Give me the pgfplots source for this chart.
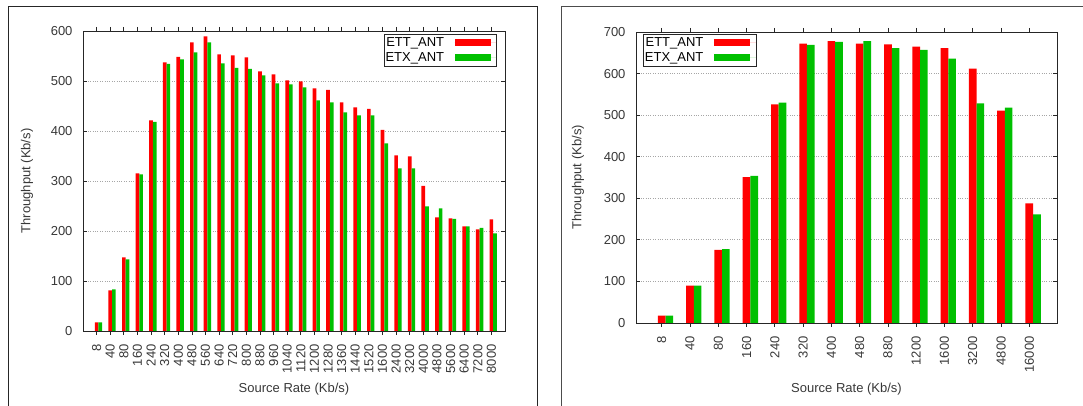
\documentclass[border=0pt]{standalone}
\usepackage{fontspec}
\setmainfont{Liberation Sans}
\usepackage{pgfplots}
\usepackage{pgfplotstable}
\pgfplotsset{compat=1.18}
\definecolor{gred}{HTML}{FF0000}
\definecolor{ggreen}{HTML}{00C000}

\pgfplotstableread{
idx rate ett etx
0 8 17 17
1 40 81 83
2 80 147 143
3 160 315 313
4 240 421 418
5 320 537 534
6 400 548 543
7 480 577 557
8 560 589 577
9 640 553 535
10 720 551 526
11 800 547 524
12 880 519 511
13 960 513 495
14 1040 501 493
15 1120 499 487
16 1200 485 461
17 1280 482 457
18 1360 457 437
19 1440 447 431
20 1520 444 431
21 1600 402 375
22 2400 351 325
23 3200 349 325
24 4000 290 249
25 4800 227 245
26 5600 225 224
27 6400 209 209
28 7200 203 206
29 8000 223 195
}\leftdata

\pgfplotstableread{
idx rate ett etx
0 8 18 18
1 40 90 90
2 80 176 178
3 160 351 354
4 240 526 530
5 320 672 669
6 400 678 676
7 480 672 678
8 880 670 661
9 1200 665 657
10 1600 661 636
11 3200 612 528
12 4800 511 518
13 16000 288 261
}\rightdata

\pgfplotsset{
  gp/.style={
    scale only axis,
    anchor=south west,
    axis line style={black!85, line width=0.9pt},
    every tick/.style={black!85, line width=0.8pt},
    major tick length=4pt,
    xtick align=outside,
    ytick align=inside,
    ymajorgrids,
    major grid style={dotted, black!35, line width=0.8pt},
    ymin=0,
    ytick distance=100,
    /pgf/number format/assume math mode=true,
    tick label style={black!78},
    label style={black!78},
    xticklabel style={yshift=-5pt, rotate=90, anchor=east},
    yticklabel style={xshift=-6pt},
    xlabel={Source Rate (Kb/s)},
    ylabel={Throughput (Kb/s)},
    legend cell align=right,
    legend plot pos=right,
    legend style={draw=black!85, line width=0.8pt, inner xsep=0pt, inner ysep=1.5pt,
      text=black, nodes={inner sep=1.5pt}, row sep=1pt, column sep=9pt},
  },
  redbar/.style={ybar, bar width=0.27, bar shift=0.0, fill=gred, draw=none,
    legend image code/.code={\fill[gred] (0pt,-3.5pt) rectangle (36pt,3.5pt); \path (0pt,0pt) -- (42pt,0pt);}},
  greenbar/.style={ybar, bar width=0.27, bar shift=0.27, fill=ggreen, draw=none,
    legend image code/.code={\fill[ggreen] (0pt,-3.5pt) rectangle (36pt,3.5pt); \path (0pt,0pt) -- (42pt,0pt);}},
}

\begin{document}
\fontsize{13}{15}\selectfont
\begin{tikzpicture}
\useasboundingbox (0pt,0pt) rectangle (1083pt,406pt);

\begin{axis}[gp,
  at={(83pt,75pt)}, width=422pt, height=300pt,
  xmin=-1, xmax=30, ymax=600,
  xtick={0,...,29},
  xticklabels from table={\leftdata}{rate},
  xlabel style={at={(axis description cs:0.5,-0.193)}, anchor=center},
  ylabel style={at={(axis description cs:-0.1327,0.5)}, anchor=center},
  legend style={at={(axis description cs:0.981,0.99)}, anchor=north east},
]
\addplot[redbar] table[x=idx, y=ett] {\leftdata};
\addlegendentry{ETT\_ANT}
\addplot[greenbar] table[x=idx, y=etx] {\leftdata};
\addlegendentry{ETX\_ANT}
\end{axis}

\begin{axis}[gp,
  at={(636pt,83pt)}, width=421pt, height=291pt,
  xmin=-0.91, xmax=13.98, ymax=700,
  xtick={0,...,13},
  xticklabels from table={\rightdata}{rate},
  xlabel style={at={(axis description cs:0.5,-0.227)}, anchor=center},
  ylabel style={at={(axis description cs:-0.138,0.5)}, anchor=center},
  legend style={at={(axis description cs:0.0166,0.993)}, anchor=north west},
]
\addplot[redbar] table[x=idx, y=ett] {\rightdata};
\addlegendentry{ETT\_ANT}
\addplot[greenbar] table[x=idx, y=etx] {\rightdata};
\addlegendentry{ETX\_ANT}
\end{axis}

\draw[black!85, line width=1pt] (8pt,0pt) -- (8pt,399pt) -- (537pt,399pt) -- (537pt,0pt);
\draw[black!70, line width=1pt] (561pt,0pt) -- (561pt,399pt) -- (1083pt,399pt);
\end{tikzpicture}
\end{document}
